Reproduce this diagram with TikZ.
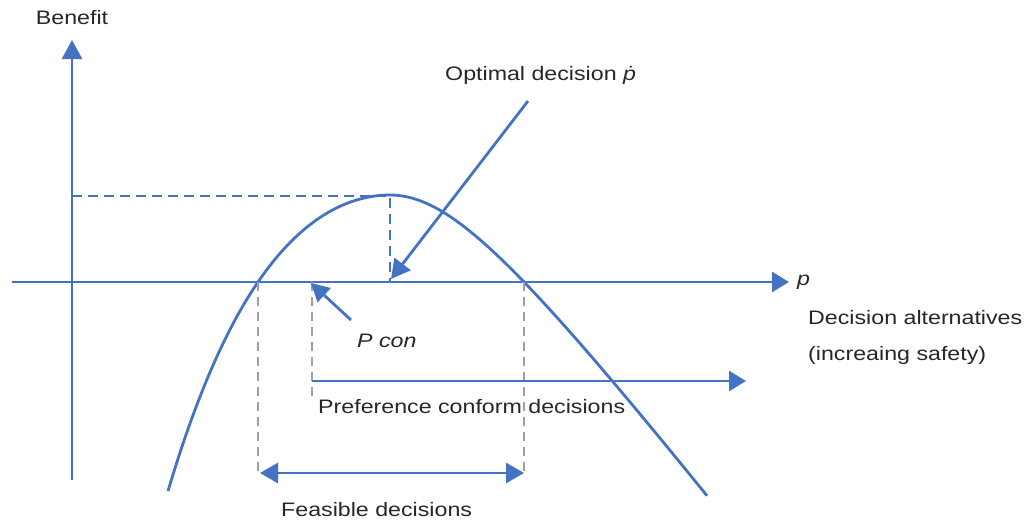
\documentclass[tikz,border=0pt]{standalone}
\usepackage{fontspec}
\setmainfont{Liberation Sans}
\usetikzlibrary{arrows.meta}
\definecolor{ablue}{RGB}{68,114,196}
\definecolor{agray}{RGB}{160,160,160}
\newcommand{\hx}[1]{\scalebox{1.19}[1]{#1}}
\tikzset{
  bline/.style={draw=ablue,line width=2.8pt},
  barrow/.style={bline,-{Triangle[length=19pt,width=20pt]}},
  bdash/.style={draw=ablue,line width=2.6pt,dash pattern=on 10pt off 6pt},
  gdash/.style={draw=agray,line width=2.4pt,dash pattern=on 9pt off 6pt},
  lbl/.style={inner sep=0pt,text=black!85,font=\fontsize{19.5}{23}\selectfont},
}
\begin{document}
\begin{tikzpicture}[x=1pt,y=-1pt]
\useasboundingbox (0,0) rectangle (1033,523);
% axes
\coordinate (ybot) at (72,480);
\coordinate (ytop) at (72,40);
\coordinate (xl) at (12,282);
\coordinate (xr) at (789,282);
\draw[barrow] (ybot) -- (ytop);
\draw[bline,-{Triangle[length=17pt,width=20pt]}] (xl) -- (xr);
% peak
\coordinate (peak) at (390,196);
\coordinate (peaky) at (72,196);
\coordinate (peakx) at (390,282);
\draw[bdash] (peaky) -- (peak) -- (peakx);
% curve
\draw[bline,line join=round] plot[domain=-2.22:0,samples=60,smooth] ({390+100*\x},{195+44.4*\x*\x+3.18*(\x*\x)*(\x*\x)})
  -- plot[domain=0:3.17,samples=60,smooth] ({390+100*\x},{195+129.4*(sqrt(1+\x*\x)-1)});
% gray dashed
\coordinate (g1t) at (258,282); \coordinate (g1b) at (258,476);
\coordinate (g2t) at (312,282); \coordinate (g2b) at (312,402);
\coordinate (g3t) at (524,282); \coordinate (g3b) at (524,476);
\draw[gdash] (g1t) -- (g1b);
\draw[gdash] (g2t) -- (g2b);
\draw[gdash] (g3t) -- (g3b);
% optimal decision arrow
\coordinate (oa) at (528,101);
\coordinate (ob) at (391,279);
\draw[barrow] (oa) -- (ob);
% P con arrow
\coordinate (pa) at (351,320);
\coordinate (pb) at (311,283);
\draw[bline,-{Triangle[length=18pt,width=19pt]}] (pa) -- (pb);
% preference arrow
\coordinate (pra) at (312,381);
\coordinate (prb) at (746,381);
\draw[bline,-{Triangle[length=17pt,width=20pt]}] (pra) -- (prb);
% feasible
\coordinate (fa) at (260,473);
\coordinate (fb) at (524,473);
\draw[bline,{Triangle[length=18pt,width=20pt]}-{Triangle[length=18pt,width=20pt]}] (fa) -- (fb);
% labels
\node[lbl] (benefit) at (72,18) {\hx{Benefit}};
\node[lbl,anchor=west] (opt) at (445,75) {\hx{Optimal decision \textit{ṗ}}};
\node[lbl,anchor=west] (p) at (797,282) {\hx{\textit{p}}};
\node[lbl,anchor=west] (da) at (808,318) {\hx{Decision alternatives}};
\node[lbl,anchor=west] (inc) at (808,355) {\hx{(increaing safety)}};
\node[lbl,anchor=west] (pcon) at (357,341) {\hx{\textit{P con}}};
\node[lbl,anchor=west] (pref) at (318,407) {\hx{Preference conform decisions}};
\node[lbl,anchor=west] (feas) at (281,510) {\hx{Feasible decisions}};
\end{tikzpicture}
\end{document}
